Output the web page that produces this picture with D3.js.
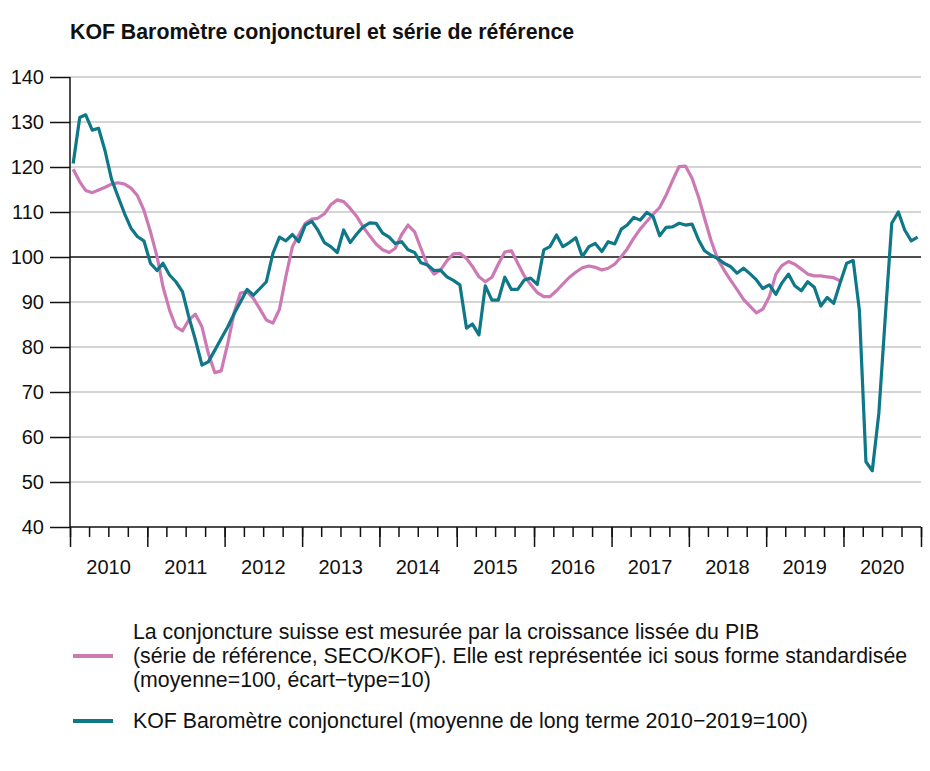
<!DOCTYPE html>
<html>
<head>
<meta charset="utf-8">
<script src="https://cdn.jsdelivr.net/npm/d3@7"></script>
<style>
  body { margin: 0; background: #fff; }
  svg { display: block; font-family: "Liberation Sans", Arial, sans-serif; }
</style>
</head>
<body>
<svg id="chart" width="930" height="771"></svg>
<script>
// ---------- data ----------
const startYear = 2010;
const yearLabels = ["2010","2011","2012","2013","2014","2015","2016","2017","2018","2019","2020"];
const yTicks = [40, 50, 60, 70, 80, 90, 100, 110, 120, 130, 140];

// KOF Barometer, monthly Jan 2010 - Dec 2020
const kofValues = [
  120.8,131.0,131.6,128.2,128.6,123.5,117.3,113.4,109.6,106.4,104.5,103.6,
  98.6,97.0,98.6,96.0,94.5,92.3,86.7,81.6,76.0,76.7,79.3,81.9,
  84.5,87.5,90.0,92.8,91.5,93.0,94.5,100.8,104.4,103.6,105.0,103.4,
  107.1,107.9,106.0,103.2,102.3,101.0,106.0,103.2,105.1,106.7,107.6,107.5,
  105.3,104.4,103.0,103.4,101.6,101.0,98.7,98.2,97.0,97.1,95.6,94.8,
  93.8,84.2,85.1,82.7,93.6,90.4,90.4,95.5,92.8,92.8,94.9,95.3,
  93.9,101.6,102.3,104.9,102.3,103.2,104.3,100.1,102.3,103.0,101.2,103.4,
  102.9,106.2,107.1,108.8,108.2,109.9,109.0,104.7,106.6,106.7,107.5,107.1,
  107.3,103.8,101.4,100.4,99.7,98.6,97.9,96.4,97.5,96.3,94.9,93.0,
  93.8,91.7,94.2,96.2,93.6,92.5,94.5,93.3,89.1,91.0,89.7,94.2,
  98.6,99.2,88.2,54.5,52.5,65.3,86.4,107.5,110.0,106.0,103.6,104.4
];

// Reference series (smoothed GDP growth, standardised), Jan 2010 - Dec 2019
const refValues = [
  119.5,116.7,114.8,114.3,114.9,115.5,116.2,116.5,116.2,115.3,113.6,110.4,
  105.6,100.1,93.4,88.2,84.5,83.6,86.0,87.3,84.5,78.6,74.3,74.7,
  80.8,87.8,92.0,92.3,90.8,88.4,86.0,85.3,88.4,95.6,102.3,104.9,
  107.5,108.4,108.6,109.6,111.6,112.7,112.3,110.8,109.0,106.7,104.7,102.9,
  101.6,101.0,101.9,105.0,107.1,105.6,101.9,98.2,96.2,97.1,99.2,100.7,
  100.8,99.7,97.9,95.6,94.5,95.5,98.4,101.1,101.4,98.6,95.8,93.9,
  92.1,91.2,91.2,92.5,94.0,95.5,96.6,97.6,98.0,97.7,97.1,97.5,
  98.4,100.1,101.8,104.2,106.2,107.9,109.5,111.0,113.8,117.0,120.1,120.2,
  117.5,113.3,108.6,103.6,99.7,97.1,94.9,92.8,90.6,89.1,87.6,88.4,
  91.2,96.2,98.1,99.0,98.4,97.3,96.2,95.8,95.8,95.6,95.4,94.7
];

const titleText = "KOF Baromètre conjoncturel et série de référence";
const refLegendLines = [
  "La conjoncture suisse est mesurée par la croissance lissée du PIB",
  "(série de référence, SECO/KOF). Elle est représentée ici sous forme standardisée",
  "(moyenne=100, écart\u2212type=10)"
];
const kofLegendText = "KOF Baromètre conjoncturel (moyenne de long terme 2010\u22122019=100)";

// ---------- styles ----------
const colRef = "#cc79b5";
const colKof = "#0e7788";
const gridCol = "#d5d5d5";
const textCol = "#111";

// ---------- layout ----------
const svg = d3.select("#chart");
const plotL = 70, plotR = 921, plotT = 77, plotB = 527;

const x = d3.scaleTime()
  .domain([new Date(startYear, 0, 1), new Date(startYear + yearLabels.length, 0, 1)])
  .range([plotL, plotR]);
const y = d3.scaleLinear().domain([40, 140]).range([plotB, plotT]);

const monthDate = i => new Date(startYear, i, 16);

// title
svg.append("text")
  .attr("x", 70).attr("y", 39)
  .attr("font-size", 21.3).attr("font-weight", "bold").attr("fill", textCol)
  .text(titleText);

// grid lines
svg.append("g").selectAll("line")
  .data(yTicks.filter(v => v !== 40 && v !== 100))
  .join("line")
  .attr("x1", plotL).attr("x2", plotR)
  .attr("y1", d => y(d)).attr("y2", d => y(d))
  .attr("stroke", gridCol).attr("stroke-width", 2);

// 100 line
svg.append("line")
  .attr("x1", plotL).attr("x2", plotR)
  .attr("y1", y(100)).attr("y2", y(100))
  .attr("stroke", textCol).attr("stroke-width", 1.3);

// y axis
const yAxis = svg.append("g")
  .attr("transform", `translate(${plotL},0)`)
  .call(d3.axisLeft(y).tickValues(yTicks).tickSize(20).tickPadding(6));
yAxis.selectAll("text").attr("font-size", 20).attr("fill", textCol)
  .attr("font-family", "'Liberation Sans', Arial, sans-serif");
yAxis.selectAll("line").attr("stroke", textCol).attr("stroke-width", 1.5);
yAxis.select(".domain").attr("stroke", textCol).attr("stroke-width", 1.5)
  .attr("d", `M0,${plotB}V${plotT}`);

// x axis: minor quarter ticks
const xMinor = svg.append("g")
  .attr("transform", `translate(0,${plotB})`)
  .call(d3.axisBottom(x).ticks(d3.timeMonth.every(3)).tickSize(10).tickFormat(""));
xMinor.selectAll("line").attr("stroke", textCol).attr("stroke-width", 1.5);
xMinor.select(".domain").attr("stroke", textCol).attr("stroke-width", 1.5)
  .attr("d", `M${plotL},0H${plotR}`);

// x axis: major year ticks
const xMajor = svg.append("g")
  .attr("transform", `translate(0,${plotB})`)
  .call(d3.axisBottom(x).ticks(d3.timeYear.every(1)).tickSize(20).tickFormat(""));
xMajor.selectAll("line").attr("stroke", textCol).attr("stroke-width", 1.5);
xMajor.select(".domain").remove();

// year labels
svg.append("g").selectAll("text")
  .data(yearLabels)
  .join("text")
  .attr("x", d => x(new Date(+d, 6, 2)))
  .attr("y", 574)
  .attr("text-anchor", "middle")
  .attr("font-size", 20).attr("fill", textCol)
  .text(d => d);

// lines
const line = d3.line()
  .x((d, i) => x(monthDate(i)))
  .y(d => y(d));

svg.append("path")
  .datum(refValues)
  .attr("fill", "none").attr("stroke", colRef).attr("stroke-width", 3.2)
  .attr("stroke-linejoin", "round")
  .attr("d", line);

svg.append("path")
  .datum(kofValues)
  .attr("fill", "none").attr("stroke", colKof).attr("stroke-width", 3.2)
  .attr("stroke-linejoin", "round")
  .attr("d", line);

// legend
const lg = svg.append("g");
lg.append("line").attr("x1", 73).attr("x2", 113).attr("y1", 656).attr("y2", 656)
  .attr("stroke", colRef).attr("stroke-width", 4);
lg.selectAll("text.ref")
  .data(refLegendLines)
  .join("text")
  .attr("class", "ref")
  .attr("x", 133).attr("y", (d, i) => 639 + i * 23.8)
  .attr("font-size", 21.3).attr("fill", textCol)
  .text(d => d);
lg.append("line").attr("x1", 73).attr("x2", 113).attr("y1", 721).attr("y2", 721)
  .attr("stroke", colKof).attr("stroke-width", 4);
lg.append("text")
  .attr("x", 133).attr("y", 728)
  .attr("font-size", 21.3).attr("fill", textCol)
  .text(kofLegendText);
</script>
</body>
</html>
